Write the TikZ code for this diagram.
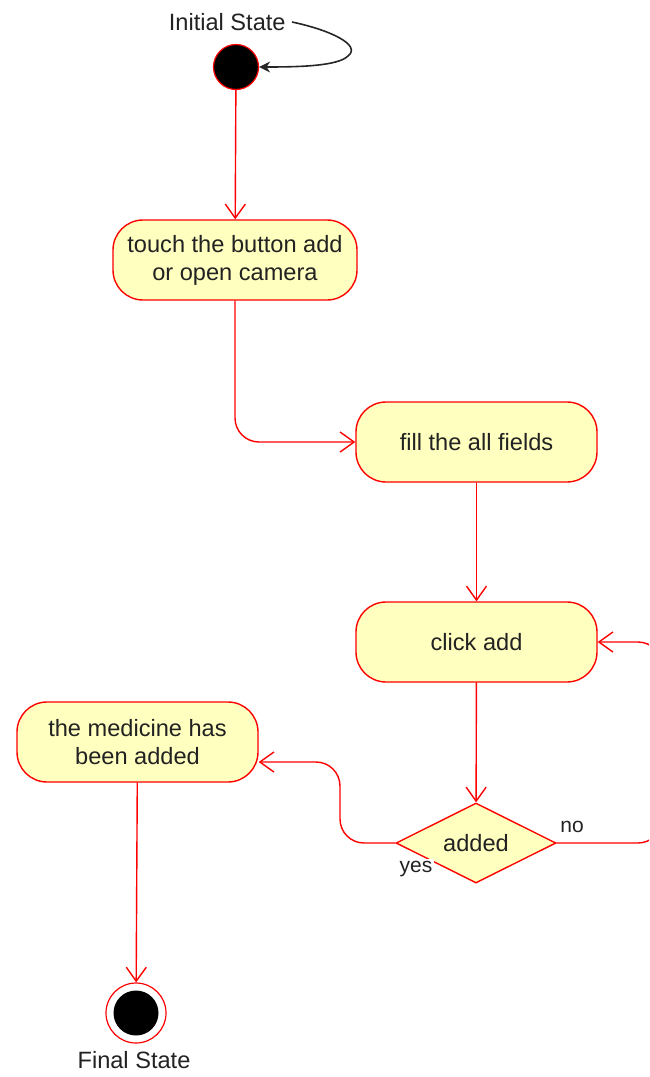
\documentclass[tikz,border=0pt]{standalone}
\usepackage{fontspec}
\setmainfont{Liberation Sans}
\usetikzlibrary{arrows.meta,shapes.geometric}
\definecolor{actfill}{HTML}{FFFFC0}
\definecolor{actred}{HTML}{FF0000}
\definecolor{txt}{HTML}{222222}
\begin{document}
\begin{tikzpicture}[x=0.5pt,y=-0.5pt,
  act/.style={draw=actred, fill=actfill, rounded corners=15pt, minimum height=40pt,
    line width=0.7pt, align=center, inner sep=0pt, text=txt,
    font=\fontsize{11.8}{14}\selectfont},
  flow/.style={draw=actred, line width=0.7pt, -{Straight Barb[length=7pt,width=10pt,line width=0.7pt]}},
  lbl/.style={text=txt, inner sep=1pt, font=\fontsize{11.8}{14}\selectfont},
  small/.style={text=txt, inner sep=1pt, font=\fontsize{10.5}{12}\selectfont}]
\useasboundingbox (0,0) rectangle (649,1077);
% nodes
\node[circle, draw=actred, fill=black, line width=0.6pt, minimum size=22.5pt, inner sep=0pt] (init) at (236,67) {};
\node[lbl, anchor=east] (initlbl) at (288,22) {Initial State};
\node[act, minimum width=122pt] (b1) at (235,260) {touch the button add\\or open camera};
\node[act, minimum width=120.5pt] (b2) at (476.5,442) {fill the all fields};
\node[act, minimum width=120.5pt] (b3) at (476.5,642) {click add};
\node[diamond, aspect=2, draw=actred, fill=actfill, line width=0.7pt, minimum width=80pt, minimum height=40pt, inner sep=0pt, text=txt, font=\fontsize{11.8}{14}\selectfont] (dec) at (476,843) {added};
\node[act, minimum width=120.5pt] (b4) at (137.5,742) {the medicine has\\been added};
\node[circle, draw=actred, fill=white, line width=0.6pt, minimum size=30pt, inner sep=0pt] (fin) at (136,1013) {};
\node[circle, fill=black, minimum size=22.5pt, inner sep=0pt] (finin) at (fin.center) {};
\node[lbl] (finlbl) at (134,1060) {Final State};
\coordinate (yk) at (340,762);
\coordinate (nk1) at (662,843);
\coordinate (nk2) at (662,642);
% connectors
\draw[black!85, line width=0.8pt, -{Stealth[length=5.5pt,width=5.5pt]}]
  ([xshift=2pt]initlbl.east) .. controls (330,30) and (362,45) .. (348,56)
  .. controls (338,66) and (300,67) .. (init.east);
\draw[flow] (init) -- (b1);
\draw[flow, rounded corners=12pt] (b1.south) |- (b2.west);
\draw[flow] (b2) -- (b3);
\draw[flow] (b3) -- (dec);
\draw[flow, rounded corners=12pt] (dec.west) -| (yk) -- (yk -| b4.east);
\begin{scope}
  \clip (0,0) rectangle (649,1077);
  \draw[flow, rounded corners=12pt] (dec.east) -- (nk1) -- (nk2) -- (b3.east);
\end{scope}
\draw[flow] (b4) -- (fin);
\node[small] (no) at (572,827) {no};
\node[small, fill=white] (yes) at (416,869) {yes};
\end{tikzpicture}
\end{document}
